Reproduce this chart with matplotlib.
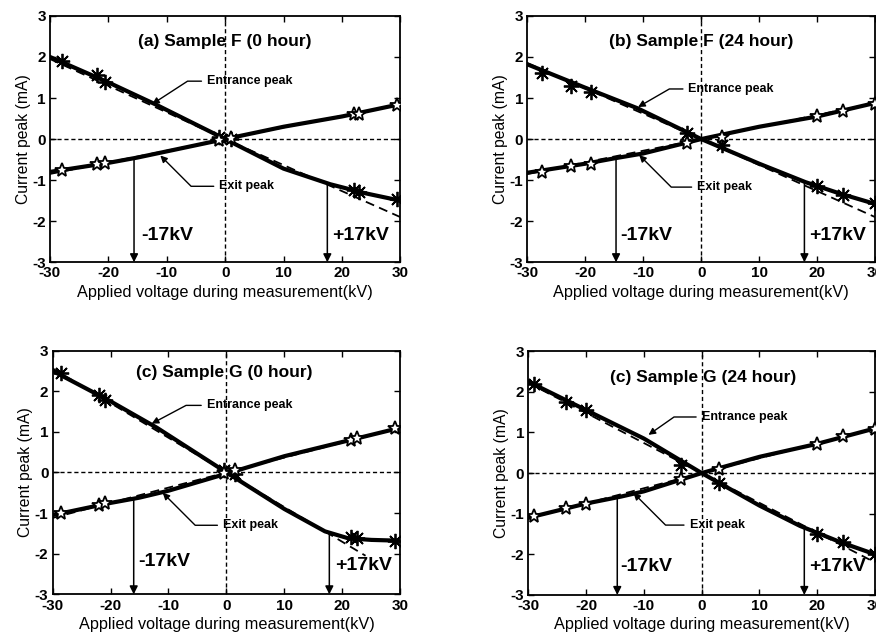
import numpy as np
import matplotlib
matplotlib.use("Agg")
import matplotlib.pyplot as plt

plt.rcParams['font.family'] = ['Liberation Sans', 'DejaVu Sans']
plt.rcParams['axes.unicode_minus'] = False

# ---------------- data ----------------
titles = ["(a) Sample F (0 hour)", "(b) Sample F (24 hour)",
          "(c) Sample G (0 hour)", "(c) Sample G (24 hour)"]

# solid curves
ent_line_x = [
    [-30, -20, -12, 0, 10, 18, 24, 30],
    [-30, -20, -11, 0, 10, 18, 24, 30],
    [-30, -20, -12, 0, 10, 17, 21, 25, 30],
    [-30, -20, -10, 0, 10, 17, 24, 30],
]
ent_line_y = [
    [2.0, 1.38, 0.85, 0.0, -0.72, -1.1, -1.32, -1.5],
    [1.82, 1.25, 0.75, 0.0, -0.6, -1.05, -1.33, -1.58],
    [2.5, 1.75, 1.1, 0.0, -0.9, -1.45, -1.62, -1.66, -1.68],
    [2.25, 1.55, 0.85, 0.0, -0.8, -1.3, -1.7, -2.0],
]
exit_line_x = [
    [-30, -20, -15, -10, 0, 10, 20, 30],
    [-30, -20, -15, -10, 0, 10, 20, 30],
    [-30, -20, -15, -10, 0, 10, 20, 30],
    [-30, -20, -14, -10, 0, 10, 20, 30],
]
exit_line_y = [
    [-0.8, -0.58, -0.45, -0.3, 0.0, 0.3, 0.55, 0.85],
    [-0.82, -0.6, -0.47, -0.35, 0.0, 0.3, 0.55, 0.88],
    [-1.05, -0.75, -0.62, -0.45, -0.03, 0.4, 0.75, 1.1],
    [-1.1, -0.75, -0.58, -0.45, 0.0, 0.4, 0.72, 1.1],
]

# dashed linear fits
ent_fit_x = [[-30, 0, 30], [-30, 0, 30], [-30, 0, 24], [-30, 0, 30]]
ent_fit_y = [[1.95, 0, -1.9], [1.85, 0, -1.9], [2.56, 0, -2.05], [2.22, 0, -2.2]]
exit_fit_x = [[-30, 0, 30], [-30, 0, 30], [-30, 0, 30], [-30, 0, 30]]
exit_fit_y = [[-0.85, 0, 0.85], [-0.85, 0, 0.88], [-1.12, 0, 1.1], [-1.12, 0, 1.1]]

# measured points
pt_x = [
    [-28, -22, -20.5, -1, 1, 22, 23, 29.5],
    [-27.5, -22.5, -19, -2.5, 3.5, 20, 24.5, 30],
    [-28.5, -22, -21, -0.5, 1.5, 21.5, 22.5, 29],
    [-29, -23.5, -20, -3.5, 3, 20, 24.5, 30],
]
ent_pt_y = [
    [1.9, 1.55, 1.4, 0.05, 0.0, -1.25, -1.3, -1.47],
    [1.6, 1.3, 1.15, 0.15, -0.15, -1.15, -1.35, -1.55],
    [2.45, 1.9, 1.78, 0.05, -0.05, -1.6, -1.62, -1.68],
    [2.2, 1.75, 1.55, 0.2, -0.25, -1.5, -1.7, -1.98],
]
exit_pt_y = [
    [-0.75, -0.6, -0.58, -0.02, 0.02, 0.6, 0.62, 0.82],
    [-0.8, -0.65, -0.6, -0.1, 0.05, 0.55, 0.68, 0.85],
    [-1.0, -0.8, -0.75, -0.02, 0.05, 0.8, 0.85, 1.1],
    [-1.05, -0.85, -0.75, -0.15, 0.1, 0.72, 0.9, 1.08],
]

x_ticks = [-30, -20, -10, 0, 10, 20, 30]
y_ticks = [-3, -2, -1, 0, 1, 2, 3]

# ---------------- layout / annotation positions ----------------
axes_rects = [
    [0.057, 0.587, 0.400, 0.388],
    [0.602, 0.587, 0.397, 0.388],
    [0.060, 0.064, 0.397, 0.384],
    [0.603, 0.063, 0.396, 0.384],
]
title_pos = [(0, 2.38), (0, 2.38), (-0.4, 2.45), (0.3, 2.36)]
ent_ann = [((-12.5, 0.85), (-3.1, 1.41), 33),
           ((-10.9, 0.78), (-2.2, 1.22), 30),
           ((-12.9, 1.2), (-3.4, 1.65), 28),
           ((-9.2, 0.94), (0.0, 1.38), 35)]
exit_ann = [((-11.1, -0.40), (-1.0, -1.15), -45),
            ((-10.7, -0.39), (-0.7, -1.17), -45),
            ((-11.0, -0.50), (-0.6, -1.30), -45),
            ((-11.8, -0.49), (-2.1, -1.28), -45)]
neg_arrow_x = [-15.6, -14.7, -16.0, -14.6]
pos_arrow_x = [17.5, 17.8, 17.75, 17.75]
neg_text = [(-14.4, -2.34), (-14.0, -2.34), (-15.3, -2.2), (-14.0, -2.3)]
pos_text = [(18.4, -2.34), (18.6, -2.34), (18.8, -2.3), (18.6, -2.3)]

fig = plt.figure(figsize=(8.76, 6.35), dpi=100)

ast = (8, 2, 0)
for i in range(4):
    ax = fig.add_axes(axes_rects[i])
    ax.set_xlim(-30, 30)
    ax.set_ylim(-3, 3)
    ax.axhline(0, color='black', ls=(0, (3, 2)), lw=1.0, zorder=1)
    ax.axvline(0, color='black', ls=(0, (3, 2)), lw=1.0, zorder=1)

    ax.plot(ent_fit_x[i], ent_fit_y[i], color='black', ls=(0, (5, 3)), lw=1.3, zorder=2)
    ax.plot(exit_fit_x[i], exit_fit_y[i], color='black', ls=(0, (5, 3)), lw=1.3, zorder=2)
    ax.plot(ent_line_x[i], ent_line_y[i], color='black', lw=3.0, zorder=3)
    ax.plot(exit_line_x[i], exit_line_y[i], color='black', lw=3.0, zorder=3)

    ax.plot(pt_x[i], ent_pt_y[i], ls='none', marker=ast, ms=11, mew=1.3,
            color='black', zorder=4)
    ax.plot(pt_x[i], exit_pt_y[i], ls='none', marker='*', ms=10, mew=1.3,
            mfc='white', mec='black', zorder=4)

    ax.text(title_pos[i][0], title_pos[i][1], titles[i], ha='center', va='center',
            fontsize=12.5, fontweight='bold')

    tip, txt, ang = ent_ann[i]
    ax.annotate("Entrance peak", xy=tip, xytext=txt, ha='left', va='center',
                fontsize=9, fontweight='bold',
                arrowprops=dict(arrowstyle='-|>', color='black', lw=1.0,
                                mutation_scale=10, shrinkA=2, shrinkB=0,
                                connectionstyle=f"angle,angleA=180,angleB={ang},rad=0"))
    tip, txt, ang = exit_ann[i]
    ax.annotate("Exit peak", xy=tip, xytext=txt, ha='left', va='center',
                fontsize=9, fontweight='bold',
                arrowprops=dict(arrowstyle='-|>', color='black', lw=1.0,
                                mutation_scale=10, shrinkA=2, shrinkB=0,
                                connectionstyle=f"angle,angleA=180,angleB={ang},rad=0"))

    y0 = np.interp(neg_arrow_x[i], exit_line_x[i], exit_line_y[i])
    ax.annotate("", xy=(neg_arrow_x[i], -3), xytext=(neg_arrow_x[i], y0),
                arrowprops=dict(arrowstyle='-|>', color='black', lw=1.1,
                                mutation_scale=12, shrinkA=0, shrinkB=0))
    y1 = np.interp(pos_arrow_x[i], ent_line_x[i], ent_line_y[i])
    ax.annotate("", xy=(pos_arrow_x[i], -3), xytext=(pos_arrow_x[i], y1),
                arrowprops=dict(arrowstyle='-|>', color='black', lw=1.1,
                                mutation_scale=12, shrinkA=0, shrinkB=0))
    ax.text(neg_text[i][0], neg_text[i][1], "-17kV", ha='left', va='center',
            fontsize=14, fontweight='bold')
    ax.text(pos_text[i][0], pos_text[i][1], "+17kV", ha='left', va='center',
            fontsize=14, fontweight='bold')

    ax.set_xticks(x_ticks)
    ax.set_yticks(y_ticks)
    ax.tick_params(direction='in', top=True, right=True, length=4, width=1,
                   labelsize=11, pad=3)
    for lab in ax.get_xticklabels() + ax.get_yticklabels():
        lab.set_fontweight('bold')
    for s in ax.spines.values():
        s.set_linewidth(1.3)
    ax.set_xlabel("Applied voltage during measurement(kV)", fontsize=11.7, labelpad=3)
    ax.set_ylabel("Current peak (mA)", fontsize=11.3, labelpad=1)

fig.savefig("out.png", dpi=100)
